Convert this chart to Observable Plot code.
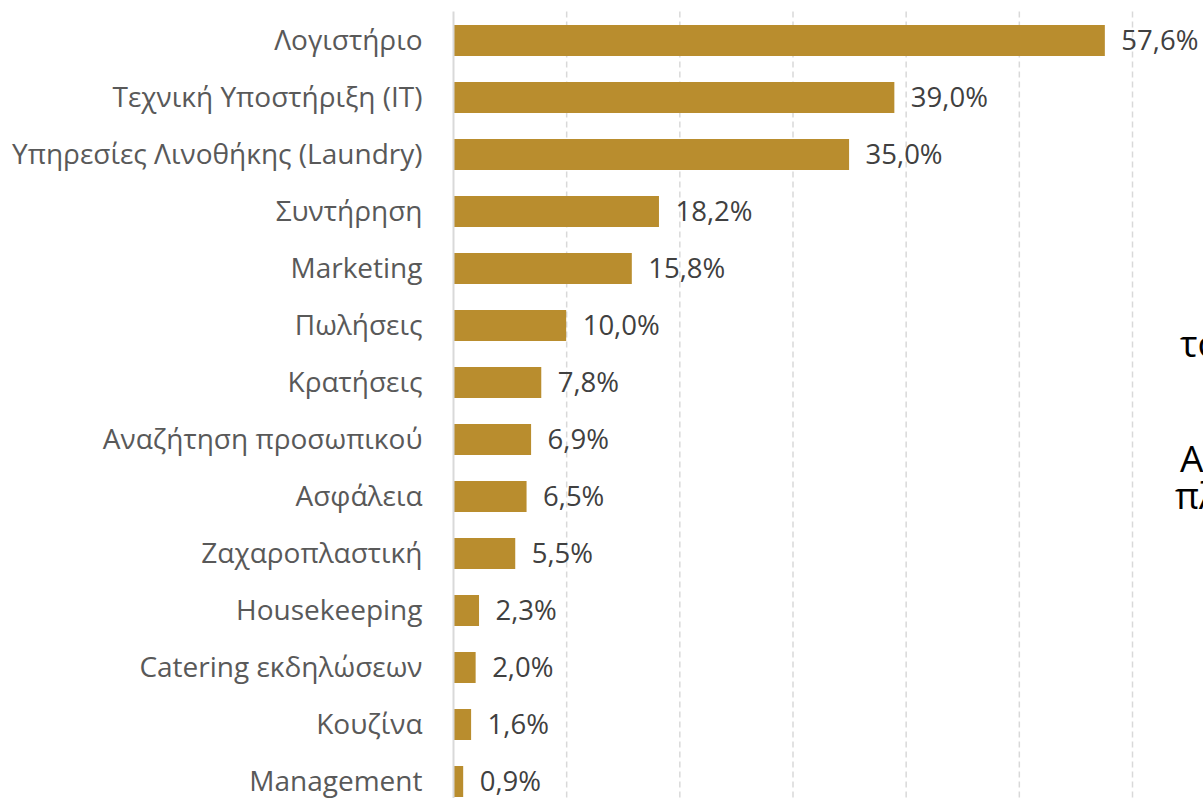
<!DOCTYPE html>
<html>
<head>
<meta charset="utf-8">
<script src="https://cdn.jsdelivr.net/npm/d3@7"></script>
<script src="https://cdn.jsdelivr.net/npm/@observablehq/plot@0.6"></script>
<style>
  html, body { margin: 0; padding: 0; background: #fff; overflow: hidden; width: 1203px; height: 798px; }
  #wrap { position: relative; width: 1203px; height: 798px; overflow: hidden; }
  .frag { position: absolute; font-family: "Open Sans", sans-serif; font-size: 37px; color: #000; white-space: nowrap; line-height: 1; }
</style>
</head>
<body>
<div id="wrap"></div>
<script>
const categories = [
  "Λογιστήριο",
  "Τεχνική Υποστήριξη (IT)",
  "Υπηρεσίες Λινοθήκης (Laundry)",
  "Συντήρηση",
  "Marketing",
  "Πωλήσεις",
  "Κρατήσεις",
  "Αναζήτηση προσωπικού",
  "Ασφάλεια",
  "Ζαχαροπλαστική",
  "Housekeeping",
  "Catering εκδηλώσεων",
  "Κουζίνα",
  "Management"
];
const values = [57.6, 39.0, 35.0, 18.2, 15.8, 10.0, 7.8, 6.9, 6.5, 5.5, 2.3, 2.0, 1.6, 0.9];
const gridTicks = [10, 20, 30, 40, 50, 60];
// Clipped text fragments from an adjacent element at the right edge
const fragments = ["το", "Α", "πλ"];

const data = categories.map((c, i) => ({category: c, value: values[i]}));
const fmt = v => v.toFixed(1).replace(".", ",") + "%";

const chart = Plot.plot({
  width: 1203,
  height: 810,
  marginLeft: 453,
  marginRight: 71,
  marginTop: 11.5,
  marginBottom: 0,
  style: {fontFamily: "'Open Sans', sans-serif", background: "transparent", overflow: "visible"},
  x: {domain: [0, 60], axis: null},
  y: {domain: categories, paddingInner: 0.456, paddingOuter: 0.228, label: null},
  marks: [
    Plot.ruleX(gridTicks, {stroke: "#d9d9d9", strokeWidth: 1.5, strokeDasharray: "6,4"}),
    Plot.barX(data, {x: "value", y: "category", fill: "#B98D2E"}),
    Plot.ruleX([0], {stroke: "#d9d9d9", strokeWidth: 2}),
    Plot.text(data, {x: "value", y: "category", text: d => fmt(d.value), textAnchor: "start", dx: 16, fontSize: 27.5, fill: "#404040"}),
    Plot.axisY({tickSize: 0, tickPadding: 31, fontSize: 28, color: "#595959", label: null})
  ]
});
const wrap = document.getElementById("wrap");
wrap.appendChild(chart);

const fragPos = [[1180, 353], [1180, 468], [1175, 505]];
fragments.forEach((t, i) => {
  const d = document.createElement("div");
  d.className = "frag";
  d.textContent = t;
  d.style.left = fragPos[i][0] + "px";
  d.style.top = (fragPos[i][1] - 29) + "px";
  wrap.appendChild(d);
});
</script>
</body>
</html>
